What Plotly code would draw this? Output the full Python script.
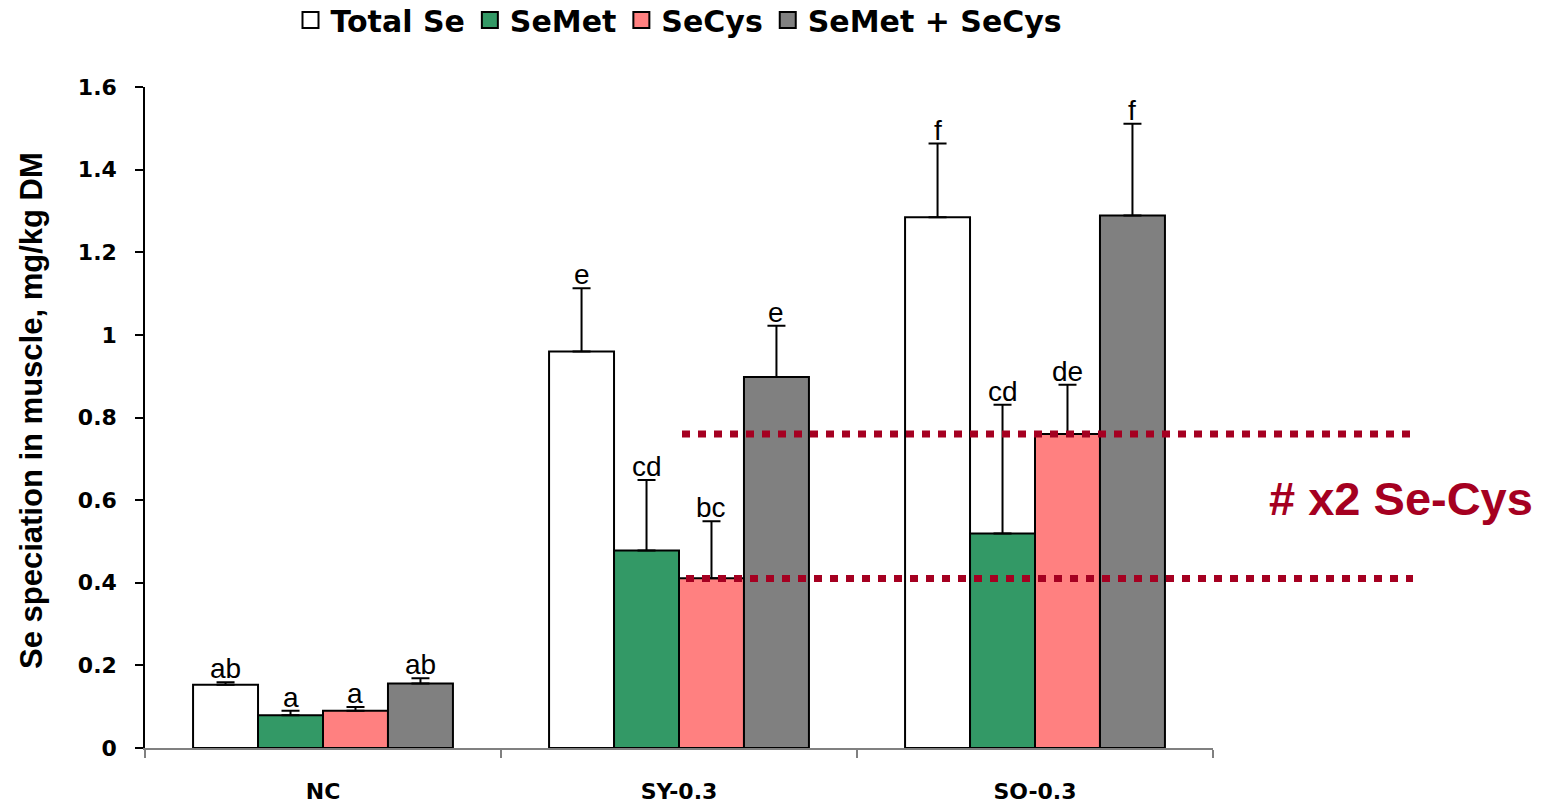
import plotly.graph_objects as go

categories = ["NC", "SY-0.3", "SO-0.3"]
series_names = ["Total Se", "SeMet", "SeCys", "SeMet + SeCys"]
total_se = [0.153, 0.960, 1.285]
total_se_err = [0.006, 0.153, 0.178]
semet = [0.079, 0.478, 0.519]
semet_err = [0.011, 0.171, 0.312]
secys = [0.090, 0.411, 0.760]
secys_err = [0.009, 0.138, 0.119]
semet_secys = [0.156, 0.898, 1.289]
semet_secys_err = [0.013, 0.124, 0.222]
letters_total = ["ab", "e", "f"]
letters_semet = ["a", "cd", "cd"]
letters_secys = ["a", "bc", "de"]
letters_sum = ["ab", "e", "f"]
ref_levels = [0.76, 0.41]
note_text = "# x2 Se-Cys"
y_title = "Se speciation in muscle, mg/kg DM"

colors = ["#FFFFFF", "#339966", "#FF8080", "#808080"]
values = [total_se, semet, secys, semet_secys]
errors = [total_se_err, semet_err, secys_err, semet_secys_err]
letters = [letters_total, letters_semet, letters_secys, letters_sum]

W, H = 1547, 804
PL, PR, PT, PB = 145, 1213, 87, 748
BARGAP = 0.27


def px_x(p):
    return (p - PL) / (PR - PL)


def px_y(p):
    return (PB - p) / (PB - PT)


fig = go.Figure()
for name, col, v, e in zip(series_names, colors, values, errors):
    fig.add_trace(go.Bar(
        x=categories, y=v, name=name, showlegend=False,
        marker=dict(color=col, line=dict(color="black", width=2)),
        error_y=dict(type="data", symmetric=False, array=e, arrayminus=[0] * len(e),
                     color="black", thickness=2, width=9),
    ))
    # legend proxy with a large square swatch
    fig.add_trace(go.Scatter(
        x=[None], y=[None], mode="markers", name=name,
        marker=dict(symbol="square", size=20, color=col, line=dict(color="black", width=2)),
    ))

annotations = []
bw = (1 - BARGAP) / 4
for i, (v, e, lab) in enumerate(zip(values, errors, letters)):
    for j in range(len(categories)):
        annotations.append(dict(
            x=j + (i - 1.5) * bw, y=v[j] + e[j], xref="x", yref="y",
            text=lab[j], showarrow=False, yanchor="bottom", yshift=-4,
            font=dict(family="Liberation Sans, Arial", size=28, color="black"),
        ))

annotations.append(dict(
    x=px_x(1401), y=px_y(498), xref="paper", yref="paper", text="<b>" + note_text + "</b>",
    showarrow=False, xanchor="center", yanchor="middle",
    font=dict(family="Liberation Sans, Arial", size=47, color="#A50021"),
))
annotations.append(dict(
    x=px_x(31), y=px_y(411), xref="paper", yref="paper", text=y_title,
    showarrow=False, xanchor="center", yanchor="middle", textangle=-90,
    font=dict(family="Liberation Sans, Arial", size=31, color="black", weight="bold"),
))

shapes = []
for lvl, x0, x1 in zip(ref_levels, [682, 686], [1410, 1413]):
    shapes.append(dict(
        type="line", xref="paper", yref="y",
        x0=px_x(x0), x1=px_x(x1), y0=lvl, y1=lvl,
        line=dict(color="#A50021", width=7, dash="8px,8px"),
    ))

fig.update_layout(
    width=W, height=H,
    margin=dict(l=PL, r=W - PR, t=PT, b=H - PB, autoexpand=False),
    plot_bgcolor="white", paper_bgcolor="white",
    barmode="group", bargap=BARGAP, bargroupgap=0,
    annotations=annotations, shapes=shapes,
    legend=dict(orientation="h", x=0.5, xanchor="center", xref="paper",
                y=1 - 20 / H, yanchor="middle", yref="container",
                font=dict(family="DejaVu Sans", size=30, color="black", weight="bold"),
                itemwidth=30, tracegroupgap=0),
    xaxis=dict(
        type="category", range=[-0.5, 2.5], showgrid=False, automargin=False,
        showline=True, linecolor="#808080", linewidth=2,
        ticks="outside", tickson="boundaries", ticklen=8, tickcolor="#808080", tickwidth=1.5,
        ticklabelstandoff=23,
        tickfont=dict(family="DejaVu Sans", size=22, color="black", weight="bold"),
    ),
    yaxis=dict(
        range=[0, 1.6], dtick=0.2, tickformat="~g", showgrid=False, zeroline=False,
        automargin=False,
        showline=True, linecolor="black", linewidth=1.5,
        ticks="outside", ticklen=8, tickcolor="black", tickwidth=1.5,
        ticklabelstandoff=14,
        tickfont=dict(family="DejaVu Sans", size=22, color="black", weight="bold"),
    ),
)

fig.write_html("out.html", config={"displayModeBar": False},
               post_script="document.body.style.margin='0px';")
